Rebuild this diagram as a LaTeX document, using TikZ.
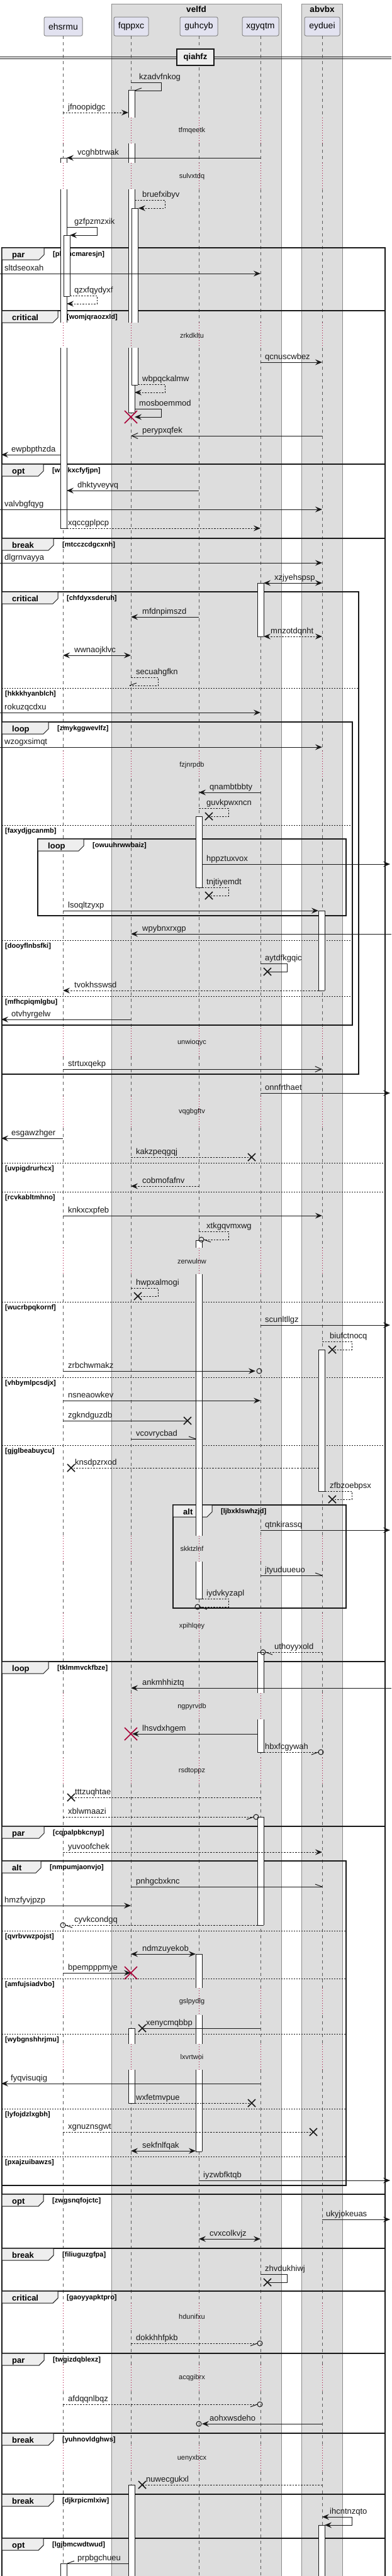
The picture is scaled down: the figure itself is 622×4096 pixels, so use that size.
\documentclass[tikz,border=0pt]{standalone}
\usepackage{fontspec}
\setmainfont{Liberation Sans}
\usetikzlibrary{arrows.meta}
\definecolor{grpfill}{HTML}{DDDDDD}
\definecolor{grpline}{HTML}{8A8A8A}
\definecolor{partfill}{HTML}{E2E2F0}
\definecolor{partline}{HTML}{888888}
\definecolor{lifec}{HTML}{5A5A5A}
\definecolor{delayc}{HTML}{A80036}
\definecolor{tabfill}{HTML}{EEEEEE}
\definecolor{ink}{HTML}{181818}
\newcount\nodec
\newcommand\nextname{\global\advance\nodec by 1\relax}
\newcommand\lbl[3]{\nextname\node[lbl] (n\the\nodec) at (#1,#2) {#3};}
\newcommand\msg[6]{\coordinate (ms) at (#2,#4);\coordinate (me) at (#3,#4);\draw[#1] (ms) -- (me);\lbl{#5}{#4-5}{#6}}
\newcommand\selfm[7]{\coordinate (ss) at (#2,#4);\coordinate (sr) at (#3,#4);\coordinate (sd) at (#3,#4+13);\coordinate (se) at (#5,#4+13);\draw[#1] (ss) -- (sr) -- (sd) -- (se);\lbl{#6}{#4-5}{#7}}
\newcommand\hup[3]{\draw[msg] (#1,#2) -- ++(#3,-4);}
\newcommand\hdown[3]{\draw[msg] (#1,#2) -- ++(#3,4);}
\newcommand\lx[2]{\draw[xmark] (#1-6,#2-6) -- (#1+6,#2+6) (#1-6,#2+6) -- (#1+6,#2-6);}
\newcommand\dx[2]{\draw[rxmark] (#1-10,#2-10) -- (#1+10,#2+10) (#1-10,#2+10) -- (#1+10,#2-10);}
\newcommand\ocmark[2]{\draw[msg] (#1,#2) circle[radius=4pt];}
\newcommand\actseg[5]{\fill[white] (#1,#2) rectangle (#1+10,#3);\draw[actl] (#1,#2) -- (#1,#3) (#1+10,#2) -- (#1+10,#3);\ifnum#4=1 \draw[actl] (#1,#2) -- (#1+10,#2);\fi\ifnum#5=1 \draw[actl] (#1,#3) -- (#1+10,#3);\fi}
\newcommand\frm[7]{\draw[frml] (#1,#2) rectangle (#3,#4);\draw[tabl] (#1,#2) -- (#5,#2) -- (#5,#2+11) -- (#5-8,#2+19) -- (#1,#2+19) -- cycle;\nextname\node[tabt] (n\the\nodec) at (#1+16,#2+15) {#6};\nextname\node[condt] (n\the\nodec) at (#5+14,#2+13) {#7};}
\newcommand\elsediv[4]{\draw[elsel] (#1,#3) -- (#2,#3);\nextname\node[condt] (n\the\nodec) at (#1+5,#3+12) {#4};}
\newcommand\delayt[2]{\nextname\node[dlt] (n\the\nodec) at (305,#1) {#2};}
\begin{document}
\begin{tikzpicture}[x=1pt,y=-1pt,
  pf/.tip={Stealth[length=11pt,width=9pt,inset=4pt]},
  po/.tip={Straight Barb[length=10pt,width=9pt]},
  msg/.style={line width=1pt,draw=ink},
  dmsg/.style={msg,dash pattern=on 2.5pt off 2pt},
  xmark/.style={line width=1.6pt,draw=ink},
  rxmark/.style={line width=1.6pt,draw=delayc},
  lbl/.style={anchor=base west,inner sep=0pt,font=\fontsize{13}{15}\selectfont,text=ink},
  dlt/.style={inner sep=0pt,font=\fontsize{11}{13}\selectfont,text=ink},
  grp/.style={draw=grpline,fill=grpfill,line width=1pt},
  grpt/.style={font=\bfseries\fontsize{13.5}{15}\selectfont,inner sep=0pt},
  part/.style={draw=partline,fill=partfill,line width=1pt,rounded corners=2.5pt,font=\fontsize{14}{16}\selectfont,inner sep=0pt,minimum height=30pt},
  life/.style={draw=lifec,line width=0.8pt,dash pattern=on 5pt off 5pt},
  delayl/.style={draw=delayc,line width=0.8pt,dash pattern=on 1pt off 3pt},
  actl/.style={draw=ink,line width=1pt},
  frml/.style={draw=ink,line width=1.6pt},
  tabl/.style={draw=ink,line width=1pt,fill=tabfill},
  tabt/.style={anchor=base west,inner sep=0pt,font=\bfseries\fontsize{13}{15}\selectfont},
  condt/.style={anchor=base west,inner sep=0pt,font=\bfseries\fontsize{11}{13}\selectfont},
  elsel/.style={draw=ink,line width=0.8pt,dash pattern=on 2pt off 2pt}]
\useasboundingbox (0,0) rectangle (622,4096);
\clip (0,0) rectangle (622,4096);
\fill[white] (0,0) rectangle (622,4096);
% groups
\draw[grp] (177,6) rectangle (447,4200);
\draw[grp] (479,6) rectangle (544,4200);
\node[grpt] (gvelfd) at (312,15) {velfd};
\node[grpt] (gabvbx) at (512,15) {abvbx};
% participants
\node[part,minimum width=61pt] (ehsrmu) at (100.5,42) {ehsrmu};
\node[part,minimum width=55pt] (fqppxc) at (208.5,42) {fqppxc};
\node[part,minimum width=60pt] (guhcyb) at (316,42) {guhcyb};
\node[part,minimum width=58pt] (xgyqtm) at (414,42) {xgyqtm};
\node[part,minimum width=56pt] (eyduei) at (512,42) {eyduei};
% lifelines
\foreach \x in {100,208,316,414,512}{
  \foreach \a/\b in {57/187,228/259,301/513,553/1194,1238/1635,1680/1743,1793/1984,2026/2442,2483/2565,2607/2692,2734/2795,2837/3161,3204/3250,3291/3662,3705/3760,3802/3888,3930/4110}
    \draw[life] (\x,\a) -- (\x,\b);
  \foreach \a/\b in {187/228,259/301,513/553,1194/1238,1635/1680,1743/1793,1984/2026,2442/2483,2565/2607,2692/2734,2795/2837,3161/3204,3250/3291,3662/3705,3760/3802,3888/3930}
    \draw[delayl] (\x,\a) -- (\x,\b);
}
% delay texts
\delayt{208}{tfmqeetk}
\delayt{281}{sulvxtdq}
\delayt{534}{zrkdkltu}
\delayt{1217}{fzjnrpdb}
\delayt{1658}{unwioqyc}
\delayt{1768}{vqgbgftv}
\delayt{2006}{zerwulnw}
\delayt{2463}{skktzlnf}
\delayt{2586}{xpihlqey}
\delayt{2714}{ngpyrvdb}
\delayt{2816}{rsdtoppz}
\delayt{3183}{gslpydlg}
\delayt{3271}{lxvrtwoi}
\delayt{3684}{hdunifxu}
\delayt{3781}{acqgibrx}
\delayt{3909}{uenyxbcx}
% divider
\draw[msg] (0,90) -- (622,90) (0,93) -- (622,93);
\node[draw=ink,line width=1.6pt,fill=tabfill,minimum width=59pt,minimum height=26pt,inner sep=0pt,font=\bfseries\fontsize{13}{15}\selectfont] (sep) at (310.5,91) {qiahfz};
% frames
\frm{3}{394}{612}{494}{70}{par}{[phyhcmaresjn]}
\frm{3}{494}{612}{738}{92}{critical}{[womjqraozxld]}
\frm{3}{738}{612}{856}{69}{opt}{[wsekxcfyfjpn]}
\frm{3}{856}{612}{2642}{85}{break}{[mtcczcdgcxnh]}
\elsediv{3}{612}{1849}{[uvpigdrurhcx]}
\elsediv{3}{612}{1895}{[rcvkabltmhno]}
\elsediv{3}{612}{2070}{[wucrbpqkornf]}
\elsediv{3}{612}{2190}{[vhbymlpcsdjx]}
\elsediv{3}{612}{2298}{[gjglbeabuycu]}
\frm{3}{941}{570}{1708}{92}{critical}{[chfdyxsderuh]}
\elsediv{3}{570}{1094}{[hkkkhyanblch]}
\frm{3}{1148}{560}{1630}{77}{loop}{[zmykggwevlfz]}
\elsediv{3}{560}{1312}{[faxydjgcanmb]}
\elsediv{3}{560}{1495}{[dooyflnbsfki]}
\elsediv{3}{560}{1584}{[mfhcpiqmlgbu]}
\frm{60}{1334}{550}{1456}{133}{loop}{[owuuhrwwbaiz]}
\frm{275}{2393}{550}{2557}{337}{alt}{[ljbxklswhzjd]}
\frm{3}{2642}{612}{2904}{77}{loop}{[tklmmvckfbze]}
\frm{3}{2904}{612}{3489}{70}{par}{[cqpalpbkcnyp]}
\frm{3}{2959}{550}{3475}{65}{alt}{[nmpumjaonvjo]}
\elsediv{3}{550}{3070}{[qvrbvwzpojst]}
\elsediv{3}{550}{3146}{[amfujsiadvbo]}
\elsediv{3}{550}{3234}{[wybgnshhrjmu]}
\elsediv{3}{550}{3353}{[lyfojdzlxgbh]}
\elsediv{3}{550}{3429}{[pxajzuibawzs]}
\frm{3}{3489}{612}{3575}{69}{opt}{[zwgsnqfojctc]}
\frm{3}{3575}{612}{3643}{85}{break}{[filiuguzgfpa]}
\frm{3}{3643}{612}{3742}{92}{critical}{[gaoyyapktpro]}
\frm{3}{3742}{612}{3869}{70}{par}{[twgizdqblexz]}
\frm{3}{3869}{612}{3966}{85}{break}{[yuhnovldghws]}
\frm{3}{3966}{612}{4036}{85}{break}{[djkrpicmlxiw]}
\frm{3}{4036}{612}{4200}{69}{opt}{[lgjbmcwdtwud]}
% activations
\actseg{96}{251}{259}{1}{0}\actseg{96}{301}{513}{0}{0}\actseg{96}{553}{840}{0}{1}
\actseg{101}{374}{471}{1}{1}
\actseg{96}{4076}{4110}{1}{0}
\actseg{204}{143}{187}{1}{0}\actseg{204}{228}{259}{0}{0}\actseg{204}{301}{513}{0}{0}\actseg{204}{553}{656}{0}{1}
\actseg{209}{331}{513}{1}{0}\actseg{209}{553}{612}{0}{1}
\actseg{204}{3225}{3250}{1}{0}\actseg{204}{3291}{3344}{0}{1}
\actseg{204}{3951}{4110}{1}{0}
\actseg{311}{1298}{1411}{1}{1}
\actseg{311}{1972}{1984}{1}{0}\actseg{311}{2026}{2442}{0}{0}\actseg{311}{2483}{2542}{0}{1}
\actseg{311}{3107}{3161}{1}{0}\actseg{311}{3204}{3250}{0}{0}\actseg{311}{3291}{3421}{0}{1}
\actseg{409}{927}{1012}{1}{1}
\actseg{409}{2627}{2692}{1}{0}\actseg{409}{2734}{2786}{0}{1}
\actseg{409}{2889}{3061}{1}{1}
\actseg{506}{1448}{1575}{1}{1}
\actseg{506}{2146}{2371}{1}{1}
\actseg{506}{4015}{4110}{1}{0}
% messages
\selfm{msg}{208}{256}{131}{214}{221}{kzadvfnkog}\hup{214}{144}{11}
\msg{dmsg,-pf}{100}{204}{179}{108}{jfnoopidgc}
\msg{msg,-pf}{414}{106}{251}{123}{vcghbtrwak}
\selfm{dmsg,-pf}{214}{262}{318}{220}{226}{bruefxibyv}
\selfm{msg,-pf}{106}{154}{361}{111}{118}{gzfpzmzxik}
\msg{msg,-pf}{0}{414}{435}{7}{sltdseoxah}
\selfm{dmsg,-pf}{111}{154}{470}{106}{118}{qzxfqydyxf}
\msg{msg,-pf}{414}{512}{576}{421}{qcnuscwbez}
\selfm{dmsg,-pf}{219}{262}{611}{214}{226}{wbpqckalmw}
\selfm{msg,-pf}{214}{256}{650}{214}{221}{mosboemmod}\dx{208}{663}
\msg{msg,-po}{512}{208}{693}{226}{perypxqfek}
\msg{msg,-pf}{96}{2}{723}{18}{ewpbpthzda}
\msg{msg,-pf}{316}{106}{780}{123}{dhktyveyvq}
\msg{msg,-pf}{0}{512}{810}{7}{valvbgfqyg}
\msg{dmsg,-pf}{106}{414}{840}{108}{xqccgplpcp}
\msg{msg,-pf}{0}{512}{895}{7}{dlgrnvayya}
\msg{msg,pf-pf}{419}{512}{927}{436}{xzjyehspsp}
\msg{msg,-pf}{316}{208}{981}{226}{mfdnpimszd}
\msg{dmsg,pf-pf}{419}{512}{1012}{430}{mnzotdqnht}
\msg{msg,pf-pf}{100}{208}{1042}{118}{wwnaojklvc}
\selfm{dmsg}{208}{251}{1077}{206}{216}{secuahgfkn}\hup{206}{1090}{11}
\msg{msg,-pf}{0}{414}{1133}{7}{rokuzqcdxu}
\msg{msg,-pf}{0}{512}{1188}{7}{wzogxsimqt}
\msg{msg,-pf}{414}{316}{1260}{333}{qnambtbbty}
\selfm{dmsg}{316}{363}{1285}{332}{328}{guvkpwxncn}\lx{332}{1298}
\msg{msg,-pf}{321}{620}{1374}{328}{hppztuxvox}
\selfm{dmsg}{321}{363}{1411}{332}{328}{tnjtiyemdt}\lx{332}{1424}
\msg{msg,-pf}{100}{506}{1448}{108}{lsoqltzyxp}
\msg{msg,-pf}{622}{208}{1485}{226}{wpybnxrxgp}
\selfm{msg}{414}{456}{1532}{425}{421}{aytdfkgqic}\lx{425}{1545}
\msg{dmsg,-pf}{506}{100}{1575}{118}{tvokhsswsd}
\msg{msg,-pf}{208}{2}{1621}{18}{otvhyrgelw}
\msg{msg,-po}{100}{512}{1700}{108}{strtuxqekp}
\msg{msg,-pf}{414}{620}{1738}{421}{onnfrthaet}
\msg{msg,-pf}{100}{2}{1810}{18}{esgawzhger}
\msg{dmsg}{208}{400}{1840}{216}{kakzpeqgqj}\lx{400}{1840}
\msg{dmsg,-pf}{316}{208}{1886}{226}{cobmofafnv}
\msg{msg,-pf}{100}{512}{1933}{108}{knkxcxpfeb}
\selfm{dmsg}{316}{363}{1958}{324}{328}{xtkgqvmxwg}\ocmark{320}{1971}\hdown{324}{1971}{11}
\selfm{dmsg}{208}{251}{2048}{219}{216}{hwpxalmogi}\lx{219}{2061}
\msg{msg,-pf}{414}{620}{2107}{421}{scunltllgz}
\selfm{dmsg}{512}{559}{2133}{528}{524}{biufctnocq}\lx{528}{2146}
\msg{msg,-pf}{100}{406}{2180}{108}{zrbchwmakz}\ocmark{412}{2180}
\msg{msg,-pf}{100}{414}{2227}{108}{nsneaowkev}
\msg{msg}{100}{298}{2259}{108}{zgkndguzdb}\lx{298}{2259}
\msg{msg}{208}{311}{2288}{216}{vcovrycbad}\hup{311}{2288}{-11}
\msg{dmsg}{506}{113}{2334}{119}{knsdpzrxod}\lx{113}{2334}
\selfm{dmsg}{516}{559}{2371}{528}{524}{zfbzoebpsx}\lx{528}{2384}
\msg{msg,-pf}{414}{620}{2433}{421}{qtnkirassq}
\msg{msg}{414}{512}{2505}{421}{jtyuduueuo}\hup{512}{2505}{-11}
\selfm{dmsg}{321}{363}{2542}{318}{328}{iydvkyzapl}\ocmark{314}{2555}\hdown{318}{2555}{11}
\msg{dmsg}{512}{422}{2627}{436}{uthoyyxold}\ocmark{418}{2627}\hdown{422}{2627}{11}
\msg{msg,-pf}{622}{208}{2684}{226}{ankmhhiztq}
\msg{msg,-pf}{409}{210}{2757}{226}{lhsvdxhgem}\dx{208}{2757}
\msg{dmsg}{419}{506}{2786}{421}{hbxfcgywah}\ocmark{510}{2786}\hdown{506}{2786}{-11}
\msg{dmsg}{414}{113}{2858}{119}{tttzuqhtae}\lx{113}{2858}
\msg{dmsg}{100}{403}{2889}{108}{xblwmaazi}\ocmark{407}{2889}\hdown{403}{2889}{-11}
\msg{dmsg,-pf}{100}{512}{2945}{108}{yuvoofchek}
\msg{msg}{208}{512}{3000}{216}{pnhgcbxknc}\hup{512}{3000}{-11}
\msg{msg,-pf}{0}{208}{3030}{7}{hmzfyvjpzp}
\msg{dmsg}{409}{104}{3061}{118}{cyvkcondgq}\ocmark{100}{3061}\hdown{104}{3061}{11}
\msg{msg,pf-pf}{208}{311}{3107}{226}{ndmzuyekob}
\msg{msg,-pf}{100}{208}{3137}{108}{bpempppmye}\dx{208}{3137}
\msg{msg}{414}{226}{3225}{232}{xenycmqbbp}\lx{226}{3225}
\msg{msg,-pf}{414}{2}{3313}{17}{fyqvisuqig}
\msg{dmsg}{214}{400}{3344}{216}{wxfetmvpue}\lx{400}{3344}
\msg{dmsg}{100}{498}{3390}{108}{xgnuznsgwt}\lx{498}{3390}
\msg{msg,pf-pf}{208}{311}{3420}{226}{sekfnlfqak}
\msg{msg,-pf}{316}{620}{3467}{323}{iyzwbfktqb}
\msg{msg,-pf}{512}{620}{3529}{518}{ukyjokeuas}
\msg{msg,pf-pf}{316}{414}{3560}{333}{cvxcolkvjz}
\selfm{msg}{414}{456}{3616}{425}{421}{zhvdukhiwj}\lx{425}{3629}
\msg{dmsg}{208}{409}{3726}{216}{dokkhhfpkb}\ocmark{413}{3726}\hdown{409}{3726}{-11}
\msg{dmsg}{100}{409}{3823}{108}{afdqqnlbqz}\ocmark{413}{3823}\hdown{409}{3823}{-11}
\msg{msg,-pf}{512}{321}{3854}{333}{aohxwsdeho}\ocmark{316}{3854}
\msg{dmsg}{512}{226}{3951}{232}{nuwecgukxl}\lx{226}{3951}
\selfm{msg,pf-pf}{512}{559}{4002}{516}{524}{ihcntnzqto}
\msg{msg}{204}{107}{4076}{123}{prpbgchueu}\hup{107}{4076}{11}
\end{tikzpicture}
\end{document}
